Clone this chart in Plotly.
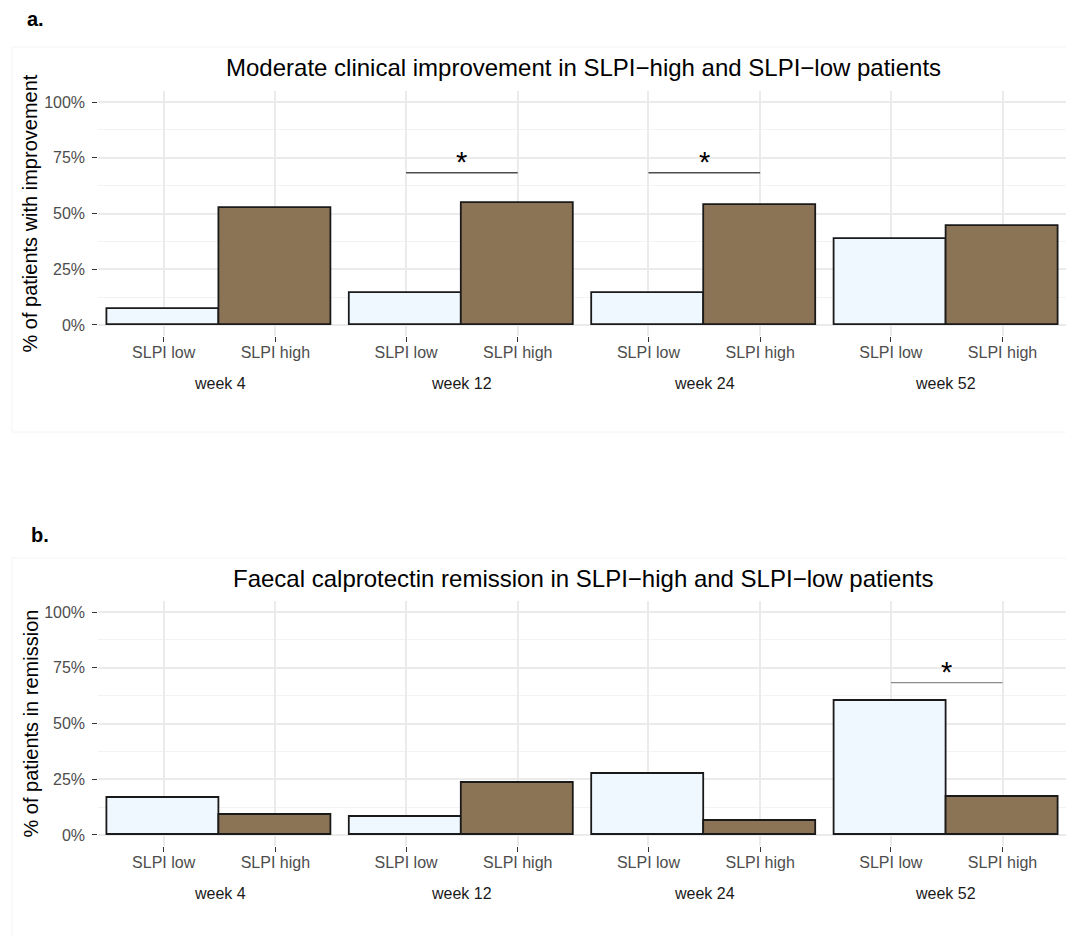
import plotly.graph_objects as go

# ---- data -----------------------------------------------------------------
weeks = ["week 4", "week 12", "week 24", "week 52"]
groups = ["SLPI low", "SLPI high"]

improvement_low = [7.1, 14.3, 14.3, 38.5]
improvement_high = [52.4, 54.8, 53.7, 44.4]
improvement_signif = ["week 12", "week 24"]

remission_low = [16.7, 8.3, 27.3, 60.0]
remission_high = [9.1, 23.5, 6.3, 17.2]
remission_signif = ["week 52"]

signif_y = 68.3
star_y = 73.0

tick_vals = [0, 25, 50, 75, 100]
tick_text = ["0%", "25%", "50%", "75%", "100%"]
minor_vals = [12.5, 37.5, 62.5, 87.5]

# ---- page geometry (pixels) ----------------------------------------------
W, H = 1066, 936
FONT = "Liberation Sans, Arial, Helvetica, sans-serif"
LOW_FILL = "#F0F8FF"
HIGH_FILL = "#8B7355"
GRID = "#EBEBEB"
MINOR_GRID = "#F3F3F3"


def fx(p):
    return p / W


def fy(p):
    return 1 - p / H


facet_left = 98.3
facet_w = 242.4
unit_px = facet_w / 2.17
x_start = -0.585

panels = [
    dict(tag="a.", tag_pos=(25, 19),
         title="Moderate clinical improvement in SLPI\u2212high and SLPI\u2212low patients",
         title_y=68, ytitle="% of patients with improvement",
         low=improvement_low, high=improvement_high, signif=improvement_signif,
         sig_color="#4D4D4D", top=91.0, bottom=336.1, week_y=383,
         frame=(12, 47, 1075, 432)),
    dict(tag="b.", tag_pos=(29, 535),
         title="Faecal calprotectin remission in SLPI\u2212high and SLPI\u2212low patients",
         title_y=578, ytitle="% of patients in remission",
         low=remission_low, high=remission_high, signif=remission_signif,
         sig_color="#8C8C8C", top=600.9, bottom=846.1, week_y=893,
         frame=(12, 558, 1075, 945)),
]

fig = go.Figure()
layout = dict(
    width=W, height=H, autosize=False,
    margin=dict(l=0, r=0, t=0, b=0),
    paper_bgcolor="white", plot_bgcolor="white",
    font=dict(family=FONT),
    showlegend=False,
    bargap=0,
)
annotations = []
shapes = []

for r, p in enumerate(panels):
    ydom = [fy(p["bottom"]), fy(p["top"])]
    for c, wk in enumerate(weeks):
        idx = r * 4 + c + 1
        sfx = "" if idx == 1 else str(idx)
        xa, ya = f"x{sfx}", f"y{sfx}"
        left = facet_left + c * facet_w
        right = min(left + facet_w, W)
        x_end = x_start + (right - left) / unit_px

        layout[f"xaxis{sfx}"] = dict(
            domain=[fx(left), fx(right)], anchor=ya,
            type="category", categoryorder="array", categoryarray=groups,
            range=[x_start, x_end],
            showgrid=True, gridcolor=GRID, gridwidth=1.5,
            ticks="outside", ticklen=5, tickwidth=1, tickcolor="#333333",
            tickfont=dict(size=16, color="#4D4D4D", family=FONT),
            ticklabelstandoff=-3,
            showline=False, zeroline=False, fixedrange=True,
        )
        layout[f"yaxis{sfx}"] = dict(
            domain=ydom, anchor=xa, range=[-5, 105],
            tickmode="array", tickvals=tick_vals, ticktext=tick_text,
            showticklabels=(c == 0),
            ticks="outside" if c == 0 else "",
            ticklen=5, tickwidth=1, tickcolor="#333333",
            tickfont=dict(size=16, color="#4D4D4D", family=FONT),
            ticklabelstandoff=4,
            showgrid=True, gridcolor=GRID, gridwidth=1.5,
            minor=dict(tickmode="array", tickvals=minor_vals, showgrid=True,
                       gridcolor=MINOR_GRID, gridwidth=1),
            showline=False, zeroline=False, fixedrange=True,
        )

        fig.add_trace(go.Bar(
            x=groups, y=[p["low"][c], p["high"][c]],
            width=1,
            marker=dict(color=[LOW_FILL, HIGH_FILL],
                        line=dict(color="#1A1A1A", width=1.8)),
            xaxis=xa, yaxis=ya, hoverinfo="x+y",
        ))

        if wk in p["signif"]:
            fig.add_trace(go.Scatter(
                x=groups, y=[signif_y, signif_y], mode="lines",
                line=dict(color=p["sig_color"], width=1.3),
                xaxis=xa, yaxis=ya, hoverinfo="skip",
            ))
            annotations.append(dict(
                x=0.5, y=star_y, xref=xa, yref=ya, text="*",
                showarrow=False, xanchor="center", yanchor="middle",
                font=dict(size=29, color="#000000", family=FONT),
            ))

        annotations.append(dict(
            x=0.5, y=fy(p["week_y"]), xref=f"{xa} domain", yref="paper",
            text=wk, showarrow=False, xanchor="center", yanchor="middle",
            font=dict(size=16, color="#1A1A1A", family=FONT),
        ))

    # panel title, y-axis title and panel tag
    annotations.append(dict(
        x=fx((facet_left + facet_left + 4 * facet_w) / 2), y=fy(p["title_y"]),
        xref="paper", yref="paper", text=p["title"], showarrow=False,
        xanchor="center", yanchor="middle",
        font=dict(size=24, color="#000000", family=FONT),
    ))
    annotations.append(dict(
        x=fx(30), y=fy((p["top"] + p["bottom"]) / 2),
        xref="paper", yref="paper", text=p["ytitle"], showarrow=False,
        textangle=-90, xanchor="center", yanchor="middle",
        font=dict(size=20, color="#000000", family=FONT),
    ))
    annotations.append(dict(
        x=fx(p["tag_pos"][0]), y=fy(p["tag_pos"][1]),
        xref="paper", yref="paper", text=f"<b>{p['tag']}</b>", showarrow=False,
        xanchor="left", yanchor="middle",
        font=dict(size=20, color="#000000", family=FONT),
    ))
    fx0, fy0, fx1, fy1 = p["frame"]
    shapes.append(dict(
        type="rect", xref="paper", yref="paper",
        x0=fx(fx0), x1=fx(fx1), y0=fy(fy1), y1=fy(fy0),
        line=dict(color="#F4F4F4", width=1), layer="below",
    ))

layout["annotations"] = annotations
layout["shapes"] = shapes
fig.update_layout(**layout)

fig.write_html("out.html")
